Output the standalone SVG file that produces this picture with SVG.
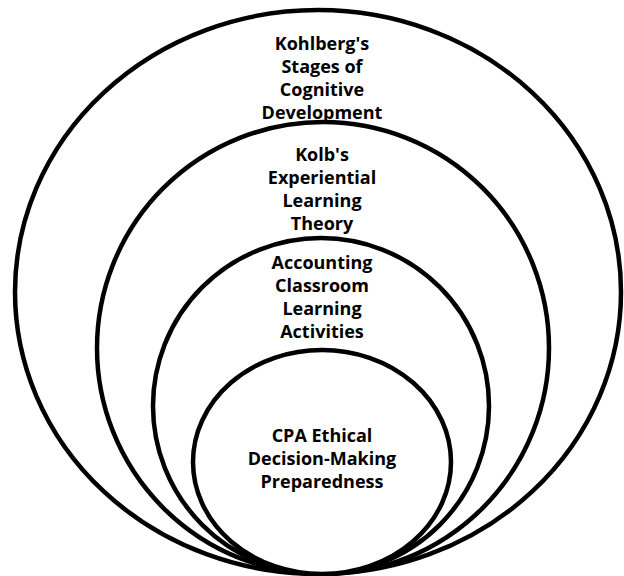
<svg xmlns="http://www.w3.org/2000/svg" width="624" height="576" viewBox="0 0 624 576">
<style>
.ring{fill:#fff;stroke:#000;stroke-width:4.5}
.lbl{font-family:"Open Sans","Liberation Sans",sans-serif;font-weight:700;font-size:18px;fill:#000;text-anchor:middle}
</style>
<rect width="624" height="576" fill="#fff"/>
<g id="kohlberg">
<ellipse class="ring" cx="318" cy="292" rx="303" ry="282"/>
<text class="lbl"><tspan x="322" y="50">Kohlberg's</tspan><tspan x="322" y="73">Stages of</tspan><tspan x="322" y="96">Cognitive</tspan><tspan x="322" y="119">Development</tspan></text>
</g>
<g id="kolb">
<ellipse class="ring" cx="323" cy="348" rx="226" ry="226"/>
<text class="lbl"><tspan x="322" y="161">Kolb's</tspan><tspan x="322" y="184">Experiential</tspan><tspan x="322" y="207">Learning</tspan><tspan x="322" y="230">Theory</tspan></text>
</g>
<g id="accounting">
<ellipse class="ring" cx="321" cy="406" rx="168" ry="168"/>
<text class="lbl"><tspan x="322" y="269">Accounting</tspan><tspan x="322" y="292">Classroom</tspan><tspan x="322" y="315">Learning</tspan><tspan x="322" y="338">Activities</tspan></text>
</g>
<g id="cpa">
<ellipse class="ring" cx="322" cy="462" rx="129" ry="112"/>
<text class="lbl"><tspan x="322" y="442">CPA Ethical</tspan><tspan x="322" y="465">Decision-Making</tspan><tspan x="322" y="488">Preparedness</tspan></text>
</g>
<g id="connectors"/>
</svg>
